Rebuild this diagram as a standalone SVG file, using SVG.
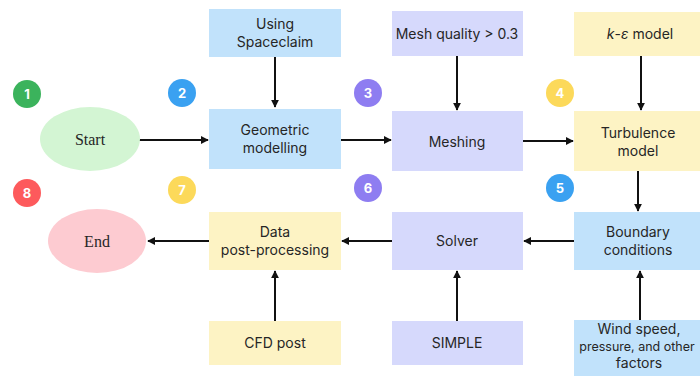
<svg xmlns="http://www.w3.org/2000/svg" width="700" height="376" viewBox="0 0 700 376">
<style>
.t{font-family:Inter,"Liberation Sans",sans-serif;font-size:14px;fill:#262626;text-anchor:middle}
.s{font-family:"Liberation Serif",serif;font-size:16px;fill:#262626;text-anchor:middle}
.n{font-family:Inter,"Liberation Sans",sans-serif;font-size:13px;font-weight:bold;fill:#fff;text-anchor:middle}
.blue{fill:#c1e2fb}.lav{fill:#d6d9fc}.yel{fill:#fdf3c4}
.c{stroke:#111;stroke-width:2;fill:none;marker-end:url(#a)}
</style>
<defs>
<marker id="a" viewBox="0 0 10 10" refX="9" refY="5" markerWidth="4" markerHeight="4" orient="auto"><path d="M0,0L10,5L0,10z" fill="#111"/></marker>
</defs>
<rect width="700" height="376" fill="#fff"/>
<g id="connectors">
<path class="c" d="M139,140H208"/>
<path class="c" d="M341,140H391"/>
<path class="c" d="M523,141H573"/>
<path class="c" d="M638,171V211"/>
<path class="c" d="M574,241H524"/>
<path class="c" d="M392,241H342"/>
<path class="c" d="M209,241H148"/>
<path class="c" d="M275,57V107"/>
<path class="c" d="M457,56V110"/>
<path class="c" d="M641,56V110"/>
<path class="c" d="M275,321V271"/>
<path class="c" d="M457,321V271"/>
<path class="c" d="M640,320V271"/>
</g>
<g id="badges">
<circle cx="27" cy="94" r="14" fill="#3bb35c"/><text class="n" x="27" y="99">1</text>
<circle cx="182" cy="93" r="14" fill="#3aa1f1"/><text class="n" x="182" y="98">2</text>
<circle cx="368" cy="93" r="14" fill="#8e7df1"/><text class="n" x="368" y="98">3</text>
<circle cx="560" cy="93" r="14" fill="#fcd95a"/><text class="n" x="560" y="98">4</text>
<circle cx="560" cy="188" r="14" fill="#3aa1f1"/><text class="n" x="560" y="193">5</text>
<circle cx="368" cy="188" r="14" fill="#8e7df1"/><text class="n" x="368" y="193">6</text>
<circle cx="182" cy="190" r="14" fill="#fcd95a"/><text class="n" x="182" y="195">7</text>
<circle cx="27" cy="193" r="14" fill="#fd5a5c"/><text class="n" x="27" y="198">8</text>
</g>
<g id="start"><ellipse cx="90" cy="139" rx="50" ry="32" fill="#d3f5d3"/><text class="s" x="90" y="145">Start</text></g>
<g id="end"><ellipse cx="97" cy="241" rx="49" ry="32" fill="#fdcbd1"/><text class="s" x="97" y="247">End</text></g>
<g id="spaceclaim"><rect class="blue" x="209" y="9" width="132" height="48"/><text class="t" x="275" y="29">Using</text><text class="t" x="275" y="47">Spaceclaim</text></g>
<g id="meshquality"><rect class="lav" x="392" y="11" width="131" height="45"/><text class="t" x="457" y="39">Mesh quality &gt; 0.3</text></g>
<g id="kepsilon"><rect class="yel" x="574" y="12" width="126" height="44"/><text class="t" x="640" y="39"><tspan font-style="italic">k</tspan>-<tspan font-style="italic">ε</tspan> model</text></g>
<g id="geometric"><rect class="blue" x="209" y="109" width="132" height="60"/><text class="t" x="275" y="135">Geometric</text><text class="t" x="275" y="153">modelling</text></g>
<g id="meshing"><rect class="lav" x="392" y="111" width="131" height="60"/><text class="t" x="457" y="147">Meshing</text></g>
<g id="turbulence"><rect class="yel" x="574" y="111" width="126" height="60"/><text class="t" x="638" y="138">Turbulence</text><text class="t" x="638" y="156">model</text></g>
<g id="boundary"><rect class="blue" x="574" y="212" width="126" height="58"/><text class="t" x="638" y="237">Boundary</text><text class="t" x="638" y="255">conditions</text></g>
<g id="solver"><rect class="lav" x="392" y="212" width="131" height="58"/><text class="t" x="457" y="246">Solver</text></g>
<g id="data"><rect class="yel" x="209" y="212" width="132" height="58"/><text class="t" x="275" y="237">Data</text><text class="t" x="275" y="255">post-processing</text></g>
<g id="cfdpost"><rect class="yel" x="209" y="321" width="132" height="44"/><text class="t" x="275" y="348">CFD post</text></g>
<g id="simple"><rect class="lav" x="392" y="321" width="131" height="44"/><text class="t" x="457" y="348">SIMPLE</text></g>
<g id="wind"><rect class="blue" x="574" y="320" width="126" height="56"/><text class="t" x="639" y="334">Wind speed,</text><text class="t" x="637" y="351" style="font-size:12.5px">pressure, and other</text><text class="t" x="639" y="368">factors</text></g>
</svg>
